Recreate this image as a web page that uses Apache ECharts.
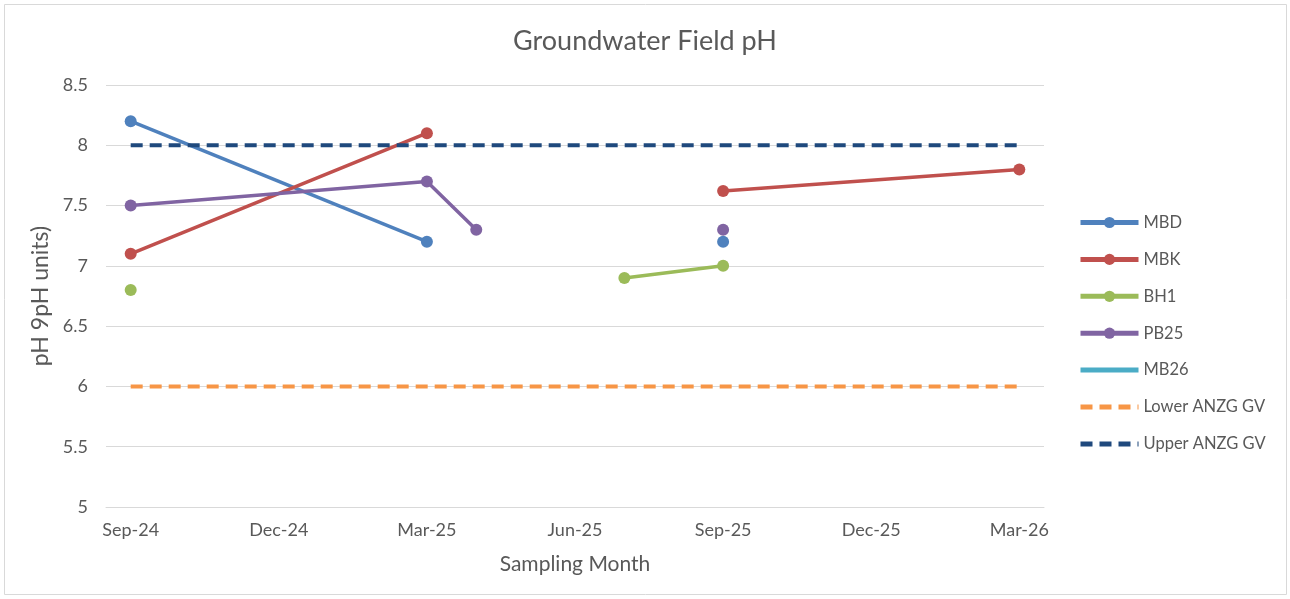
<!DOCTYPE html>
<html>
<head>
<meta charset="utf-8">
<title>Groundwater Field pH</title>
<script src="https://cdn.jsdelivr.net/npm/echarts@6/dist/echarts.min.js"></script>
<style>
  html, body { margin: 0; padding: 0; background: #fff; }
  #chart { width: 1290px; height: 599px; }
</style>
</head>
<body>
<div id="chart"></div>
<script>
// month axis (every month from Sep-24 to Mar-26)
const months = ['Sep-24', 'Oct-24', 'Nov-24', 'Dec-24', 'Jan-25', 'Feb-25', 'Mar-25',
  'Apr-25', 'May-25', 'Jun-25', 'Jul-25', 'Aug-25', 'Sep-25', 'Oct-25', 'Nov-25',
  'Dec-25', 'Jan-26', 'Feb-26', 'Mar-26'];
// sampling rounds
const sampled = ['Sep-24', 'Mar-25', 'Apr-25', 'Jul-25', 'Sep-25', 'Mar-26'];
const mbd = [8.2, 7.2, null, null, 7.2, null];
const mbk = [7.1, 8.1, null, null, 7.62, 7.8];
const bh1 = [6.8, null, null, 6.9, 7.0, null];
const pb25 = [7.5, 7.7, 7.3, null, 7.3, null];
const mb26 = [null, null, null, null, null, null];
const lowerGV = [6, 6, 6, 6, 6, 6];
const upperGV = [8, 8, 8, 8, 8, 8];

const font = 'Lato, "Open Sans", sans-serif';
const textColor = '#595959';

// pair sampled months with values, gaps break the line
function pairs(values) {
  return sampled.map((m, i) => [m, values[i] == null ? '-' : values[i]]);
}

function pointSeries(name, values, color) {
  return {
    name: name,
    type: 'line',
    data: pairs(values),
    symbol: 'circle',
    symbolSize: 12,
    lineStyle: { width: 3.5, color: color },
    itemStyle: { color: color },
    emphasis: { disabled: true },
  };
}

function gvSeries(name, values, color) {
  return {
    name: name,
    type: 'line',
    data: pairs(values),
    symbol: 'none',
    lineStyle: { width: 4, color: color, type: [12, 7] },
    itemStyle: { color: color },
    emphasis: { disabled: true },
  };
}

// legend entries without a marker
const noMarker = { itemStyle: { opacity: 0 } };

const mychart = echarts.init(document.getElementById('chart'));
mychart.setOption({
  animation: false,
  textStyle: { fontFamily: font },
  title: {
    text: 'Groundwater Field pH',
    left: 'center',
    top: 23,
    textStyle: { fontFamily: font, fontSize: 27, fontWeight: 'normal', color: textColor },
  },
  graphic: [{
    type: 'rect',
    shape: { x: 4.5, y: 4.5, width: 1282, height: 590 },
    style: { fill: 'none', stroke: '#d9d9d9', lineWidth: 1 },
  }],
  legend: {
    orient: 'vertical',
    left: 1073,
    top: 209,
    itemWidth: 58,
    itemHeight: 14,
    itemGap: 19.9,
    lineStyle: { width: 5 },
    textStyle: { fontFamily: font, fontSize: 16.5, color: textColor },
    data: [
      'MBD', 'MBK', 'BH1', 'PB25',
      Object.assign({ name: 'MB26' }, noMarker),
      Object.assign({ name: 'Lower ANZG GV' }, noMarker),
      Object.assign({ name: 'Upper ANZG GV' }, noMarker),
    ],
  },
  grid: { left: 106, right: 246, top: 85, bottom: 92 },
  xAxis: {
    type: 'category',
    data: months,
    boundaryGap: true,
    name: 'Sampling Month',
    nameLocation: 'middle',
    nameGap: 47,
    nameTextStyle: { fontFamily: font, fontSize: 21, color: textColor },
    axisLine: { lineStyle: { color: '#d9d9d9', width: 1 } },
    axisTick: { interval: 2, length: 5, lineStyle: { color: '#d9d9d9' } },
    axisLabel: { interval: 2, fontSize: 18, color: textColor, margin: 14 },
    splitLine: { show: false },
  },
  yAxis: {
    type: 'value',
    min: 5,
    max: 8.5,
    interval: 0.5,
    name: 'pH 9pH units)',
    nameLocation: 'middle',
    nameGap: 43,
    nameTextStyle: { fontFamily: font, fontSize: 23, color: textColor },
    axisLine: { show: false },
    axisTick: { show: false },
    axisLabel: { fontSize: 18, color: textColor, margin: 18 },
    splitLine: { lineStyle: { color: '#d9d9d9', width: 1 } },
  },
  series: [
    pointSeries('MBD', mbd, '#4F81BD'),
    pointSeries('MBK', mbk, '#C0504D'),
    pointSeries('BH1', bh1, '#9BBB59'),
    pointSeries('PB25', pb25, '#8064A2'),
    {
      name: 'MB26',
      type: 'line',
      data: pairs(mb26),
      symbol: 'none',
      lineStyle: { width: 3.5, color: '#4BACC6' },
      itemStyle: { color: '#4BACC6' },
    },
    gvSeries('Lower ANZG GV', lowerGV, '#F79646'),
    gvSeries('Upper ANZG GV', upperGV, '#1F497D'),
  ],
});
</script>
</body>
</html>
